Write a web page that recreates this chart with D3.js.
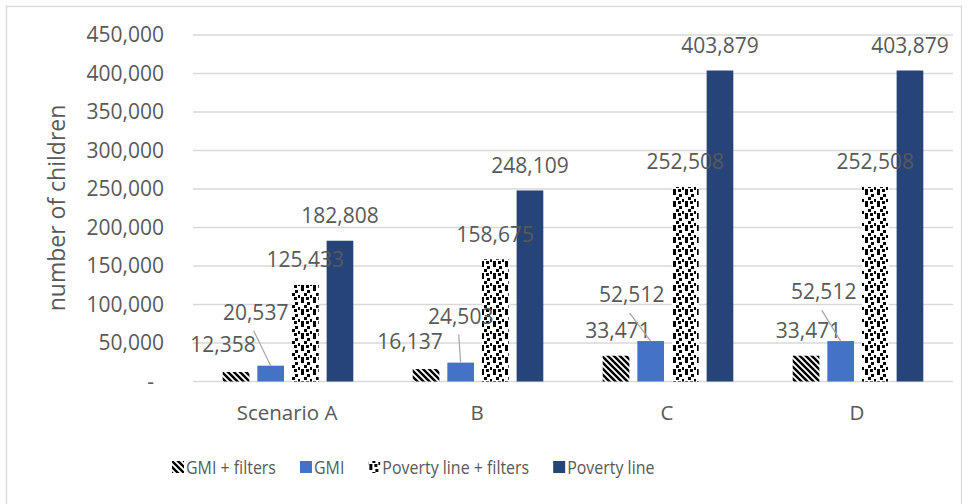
<!DOCTYPE html>
<html>
<head>
<meta charset="utf-8">
<script src="https://cdn.jsdelivr.net/npm/d3@7"></script>
<style>
  html, body { margin: 0; padding: 0; background: #fff; }
  svg { display: block; }
  text { font-family: "Open Sans", "Noto Sans", sans-serif; fill: #595959; }
</style>
</head>
<body>
<svg id="chart" width="969" height="504"></svg>
<script>
// Scenarios on the horizontal axis
const categories = ["Scenario A", "B", "C", "D"];
// Series, in drawing order within each group
const seriesNames = ["GMI + filters", "GMI", "Poverty line + filters", "Poverty line"];
// Number of children per series, one value per scenario
const gmiFilters = [12358, 16137, 33471, 33471];
const gmi = [20537, 24503, 52512, 52512];
const povertyFilters = [125433, 158675, 252508, 252508];
const povertyLine = [182808, 248109, 403879, 403879];
// Value-axis ticks
const yTicks = [0, 50000, 100000, 150000, 200000, 250000, 300000, 350000, 400000, 450000];

const seriesValues = [gmiFilters, gmi, povertyFilters, povertyLine];

// Small labels that were dragged off their bars: offsets from the default spot,
// and whether a leader line ties them back to the bar.
const labelNudges = {
  "0-0": { dx: -13, dy: -2, leader: false },
  "0-1": { dx: -15, dy: -28, leader: true },
  "1-0": { dx: -16, dy: -2, leader: false },
  "1-1": { dx: 0, dy: -21, leader: true },
  "2-0": { dx: 2, dy: 0, leader: false },
  "2-1": { dx: -19, dy: -21, leader: true },
  "3-0": { dx: 2.5, dy: 0, leader: false },
  "3-1": { dx: -17, dy: -24, leader: true }
};

const svg = d3.select("#chart");
const plot = { left: 193, right: 953, top: 35, bottom: 381.5 };

// Outer chart frame
svg.append("rect")
  .attr("x", 6.5).attr("y", 6.5)
  .attr("width", 955).attr("height", 505)
  .attr("fill", "#fff").attr("stroke", "#d9d9d9").attr("stroke-width", 1.3);

// Fill patterns for the "+ filters" series
const defs = svg.append("defs");
const stripe = defs.append("pattern")
  .attr("id", "pat-stripe").attr("patternUnits", "userSpaceOnUse")
  .attr("width", 6).attr("height", 6);
stripe.append("rect").attr("width", 6).attr("height", 6).attr("fill", "#fff");
stripe.append("path")
  .attr("d", "M-1,-1 L7,7 M-4,2 L2,8 M2,-4 L8,2")
  .attr("stroke", "#000").attr("stroke-width", 2.4).attr("stroke-linecap", "square");

const confetti = defs.append("pattern")
  .attr("id", "pat-confetti").attr("patternUnits", "userSpaceOnUse")
  .attr("width", 12).attr("height", 12);
confetti.append("rect").attr("width", 12).attr("height", 12).attr("fill", "#fff");
[[1, 0], [7, 2], [4, 5], [10, 7], [1, 9], [6, 9]].forEach(([x, y]) => {
  confetti.append("rect").attr("x", x).attr("y", y)
    .attr("width", 3).attr("height", 3).attr("fill", "#000")
    .attr("shape-rendering", "crispEdges");
});

const fills = ["url(#pat-stripe)", "#4472C4", "url(#pat-confetti)", "#264478"];

// Scales
const y = d3.scaleLinear().domain([0, 450000]).range([plot.bottom, plot.top]);
const x0 = d3.scaleBand().domain(categories).range([plot.left, plot.right]);
const x1 = d3.scaleBand().domain(seriesNames).range([29.7, 160.3]).paddingInner(0.23);

// Gridlines
svg.append("g").selectAll("line").data(yTicks).join("line")
  .attr("x1", plot.left).attr("x2", plot.right)
  .attr("y1", d => y(d)).attr("y2", d => y(d))
  .attr("stroke", "#d9d9d9").attr("stroke-width", 1.3);

// Value axis labels
const yAxis = d3.axisLeft(y).tickValues(yTicks).tickSize(0).tickPadding(0)
  .tickFormat(d => d === 0 ? "-" : d3.format(",")(d));
const gy = svg.append("g").attr("transform", `translate(${plot.left - 29},0)`).call(yAxis);
gy.select(".domain").remove();
gy.selectAll("text")
  .attr("font-size", 21).attr("fill", "#595959")
  .attr("font-family", "Open Sans")
  .attr("dx", d => d === 0 ? -10 : 0);

// Category axis labels
svg.append("g").selectAll("text").data(categories).join("text")
  .attr("x", d => x0(d) + x0.bandwidth() / 2 - 1)
  .attr("y", 413).attr("dy", "0.35em")
  .attr("text-anchor", "middle").attr("font-size", 20.5)
  .text(d => d);

// Axis title
svg.append("text")
  .attr("transform", "translate(57,208) rotate(-90)")
  .attr("text-anchor", "middle").attr("dy", "0.35em")
  .attr("font-size", 23)
  .text("number of children");

// Bars
const rows = [];
categories.forEach((c, ci) => {
  seriesNames.forEach((s, si) => {
    rows.push({ c, ci, s, si, v: seriesValues[si][ci] });
  });
});

svg.append("g").selectAll("rect").data(rows).join("rect")
  .attr("x", d => x0(d.c) + x1(d.s))
  .attr("y", d => y(d.v))
  .attr("width", x1.bandwidth())
  .attr("height", d => y(0) - y(d.v))
  .attr("fill", d => fills[d.si]);

// Data labels and leader lines
const labelLayer = svg.append("g");
rows.forEach(d => {
  const cx = x0(d.c) + x1(d.s) + x1.bandwidth() / 2;
  const top = y(d.v);
  const nudge = labelNudges[`${d.ci}-${d.si}`] || { dx: 0, dy: 0, leader: false };
  const lx = cx + nudge.dx;
  const ly = top - 25 + nudge.dy;
  if (nudge.leader) {
    labelLayer.append("line")
      .attr("x1", lx - 2).attr("y1", ly + 18)
      .attr("x2", cx).attr("y2", top)
      .attr("stroke", "#a6a6a6").attr("stroke-width", 1.2);
  }
  labelLayer.append("text")
    .attr("x", lx).attr("y", ly).attr("dy", "0.35em")
    .attr("text-anchor", "middle").attr("font-size", 21)
    .attr("fill", "#404040")
    .text(d3.format(",")(d.v));
});

// Legend (text slightly condensed horizontally)
const legend = svg.append("g").attr("transform", "translate(172,467)");
const squeeze = 0.84;
let lxPos = 0;
seriesNames.forEach((s, i) => {
  const item = legend.append("g").attr("transform", `translate(${lxPos},0)`);
  item.append("rect").attr("x", 0).attr("y", -6).attr("width", 12).attr("height", 12)
    .attr("fill", fills[i]);
  const t = item.append("text")
    .attr("transform", `translate(14,0) scale(${squeeze},1)`)
    .attr("dy", "0.35em")
    .attr("font-size", 19).text(s);
  lxPos += 14 + t.node().getComputedTextLength() * squeeze + 24;
});
</script>
</body>
</html>
